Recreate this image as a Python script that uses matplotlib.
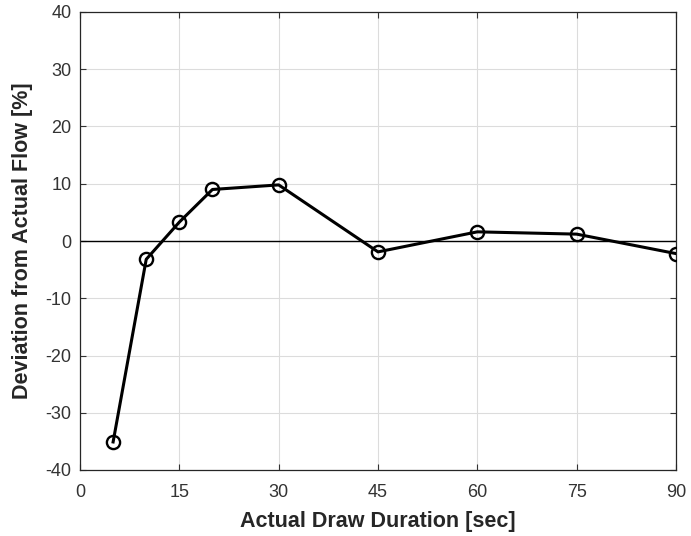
import matplotlib
matplotlib.use("Agg")
import matplotlib.pyplot as plt

duration = [5, 10, 15, 20, 30, 45, 60, 75, 90]
deviation = [-35.1, -3.2, 3.3, 9.0, 9.8, -1.9, 1.6, 1.2, -2.2]
xticks = [0, 15, 30, 45, 60, 75, 90]
yticks = [-40, -30, -20, -10, 0, 10, 20, 30, 40]

plt.rcParams['font.family'] = ['Liberation Sans', 'DejaVu Sans']
plt.rcParams['axes.unicode_minus'] = False
fig = plt.figure(figsize=(6.91, 5.36), dpi=100)
ax = fig.add_axes([80/691, 1-470/536, (676-80)/691, (470-12)/536])

ax.axhline(0, color='black', lw=1.0, zorder=2)
ax.plot(duration, deviation, color='black', lw=2.2, marker='o', ms=9.5,
        mfc='none', mec='black', mew=1.7, zorder=3)

ax.set_xlim(0, 90)
ax.set_ylim(-40, 40)
ax.set_xticks(xticks)
ax.set_yticks(yticks)
ax.grid(True, color='#dcdcdc', lw=0.8)
ax.set_axisbelow(True)
ax.tick_params(direction='in', length=4, width=0.8, labelsize=13, colors='#333333',
               top=True, right=True)
ax.tick_params(axis='x', pad=10)
ax.tick_params(axis='y', pad=6)
for s in ax.spines.values():
    s.set_color('#262626')
    s.set_linewidth(0.9)
ax.set_xlabel('Actual Draw Duration [sec]', fontsize=15.5, fontweight='bold', color='#262626', labelpad=7)
ax.set_ylabel('Deviation from Actual Flow [%]', fontsize=15.5, fontweight='bold', color='#262626', labelpad=9)

fig.savefig('out.png', dpi=100)
